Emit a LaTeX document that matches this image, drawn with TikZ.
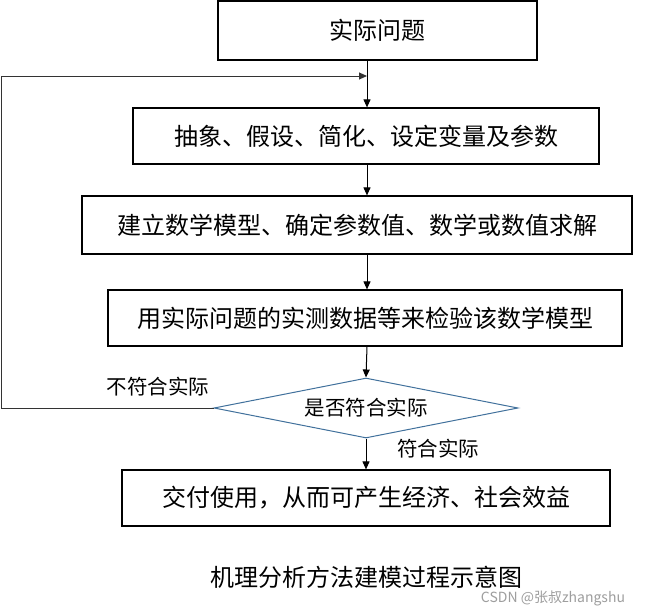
\documentclass[tikz,border=0pt]{standalone}
\usepackage{fontspec}
\newfontfamily\cjk{Noto Sans CJK SC}
\usetikzlibrary{arrows.meta,shapes.geometric}
\begin{document}
\begin{tikzpicture}[x=1pt,y=-1pt,
  box/.style={draw=black,line width=1.2pt,rectangle,inner sep=0pt,font=\cjk\fontsize{24}{28}\selectfont},
  arr/.style={line width=1pt,-{Triangle[length=8pt,width=7pt]}},
  lbl/.style={inner sep=0pt,font=\cjk\fontsize{20.5}{24}\selectfont}]
\useasboundingbox (0,0) rectangle (650,610);
\fill[white] (0,0) rectangle (650,610);
\node[box,minimum width=319pt,minimum height=59pt] (b1) at (377.5,30.5) {实际问题};
\node[box,minimum width=466pt,minimum height=56pt] (b2) at (366,136) {抽象、假设、简化、设定变量及参数};
\node[box,minimum width=550pt,minimum height=58pt] (b3) at (357,225) {建立数学模型、确定参数值、数学或数值求解};
\node[box,minimum width=514pt,minimum height=56pt] (b4) at (365,318) {用实际问题的实测数据等来检验该数学模型};
\node[diamond,draw={rgb,255:red,65;green,113;blue,156},line width=1pt,aspect=5,minimum width=304pt,minimum height=60pt,inner sep=0pt,font=\cjk\fontsize{20.5}{24}\selectfont] (d) at (366,408) {是否符合实际};
\node[box,minimum width=488pt,minimum height=56pt] (b5) at (366,498) {交付使用，从而可产生经济、社会效益};
\node[lbl] (no) at (158,387) {不符合实际};
\node[lbl] (yes) at (438,449) {符合实际};
\node[inner sep=0pt,font=\cjk\fontsize{24}{28}\selectfont] (cap) at (366,577) {机理分析方法建模过程示意图};
\node[inner sep=0pt,text=black!38,font=\cjk\fontsize{14}{16}\selectfont] (wm) at (553,598) {CSDN @张叔zhangshu};
\coordinate (fb) at (367,76);
\coordinate (lft) at (1,76);
\draw[arr] (b1.south -| fb) -- (b2.north -| fb);
\draw[arr] (b2.south -| fb) -- (b3.north -| fb);
\draw[arr] (b3.south -| fb) -- (b4.north -| fb);
\draw[arr] (b4.south -| fb) -- (d.north);
\draw[arr] (d.south) -- (b5.north -| d.south);
\draw[arr,draw=black!80] (d.west) -| (lft) -- (fb);
\end{tikzpicture}
\end{document}
